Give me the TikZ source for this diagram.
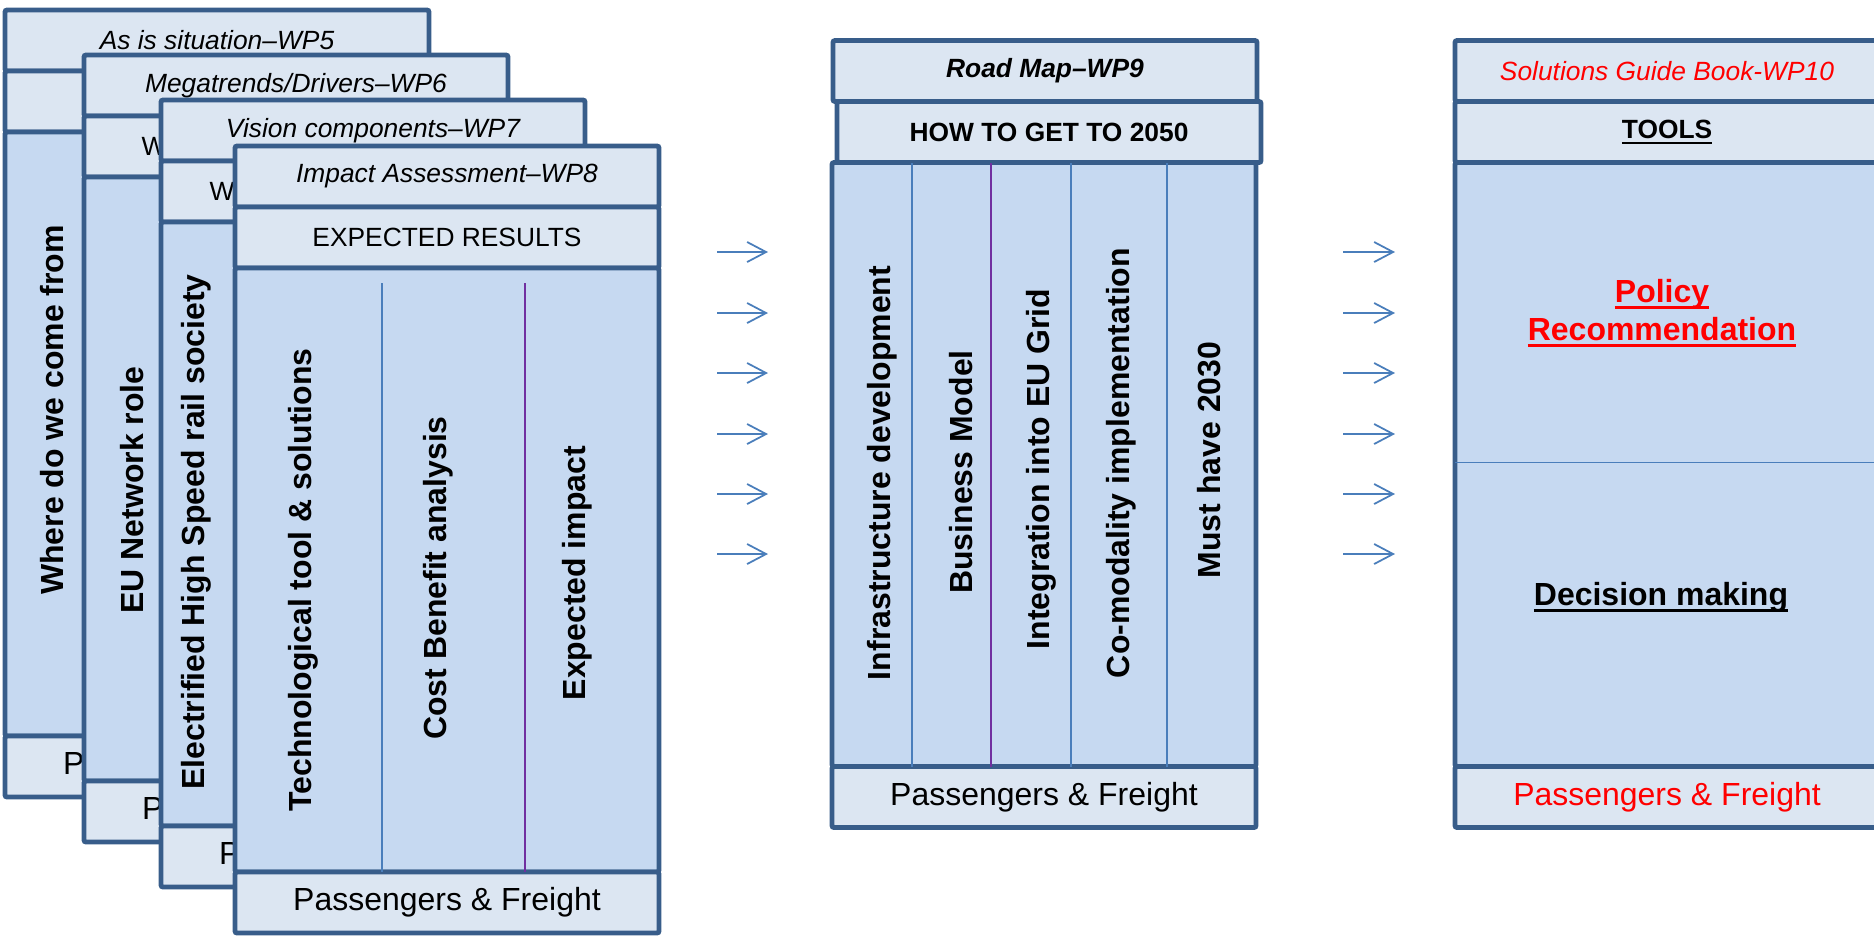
\documentclass[tikz,border=0pt]{standalone}
\usepackage{fontspec}
\setmainfont{Liberation Sans}
\usepackage{xcolor}
\usetikzlibrary{arrows.meta, positioning, calc}

\definecolor{cardline}{RGB}{56,93,138}
\definecolor{rowfill}{RGB}{220,230,242}
\definecolor{bodyfill}{RGB}{198,217,241}
\definecolor{divblue}{RGB}{74,126,187}
\definecolor{divpurple}{RGB}{112,48,160}
\definecolor{wpred}{RGB}{255,0,0}

\newcommand{\undertext}[1]{\setbox0\hbox{#1}\rlap{\rule[-0.2em]{\wd0}{0.08em}}\box0}

\tikzset{
    rowbox/.style={rectangle, rounded corners=0.6pt, minimum width=4.24cm, minimum height=0.61cm,
        inner sep=0pt, outer sep=0pt, draw=cardline, line width=1.4pt, fill=rowfill,
        text centered, font=\fontsize{7.5}{9}\selectfont},
    titlebox/.style={rowbox, font=\fontsize{7.5}{9}\selectfont\itshape},
    footbox/.style={rowbox, font=\fontsize{9.1}{11}\selectfont},
    bodybox/.style={rowbox, minimum height=6.04cm, fill=bodyfill},
    coltext/.style={rotate=90, inner sep=0pt, font=\fontsize{9.1}{11}\selectfont\bfseries},
    bigtext/.style={inner sep=0pt, align=center, font=\fontsize{9.1}{10.8}\selectfont\bfseries},
    hidetext/.style={anchor=west, inner sep=0pt, font=\fontsize{7.5}{9}\selectfont},
    divline/.style={draw=divblue, line width=0.45pt},
    flowarrow/.style={-{Straight Barb[length=1.9mm, width=2mm]}, draw=divblue, line width=0.5pt},
}

\begin{document}
\begin{tikzpicture}[x=1cm, y=1cm]
    \useasboundingbox (0,0) rectangle (18.74,-9.37);

    % stacked work package cards, back to front
    \node[titlebox] (c1t) at (2.17,-0.405) {As is situation–WP5};
    \node[rowbox, below=0pt of c1t] (c1h) {};
    \node[bodybox, below=0pt of c1h] (c1b) {};
    \node[footbox, below=0pt of c1b] (c1p) {Passengers \& Freight};
    \node[coltext] (c1x) at (0.52,-4.10) {Where do we come from};

    \node[titlebox] (c2t) at (2.96,-0.855) {Megatrends/Drivers–WP6};
    \node[rowbox, below=0pt of c2t] (c2h) {};
    \node[hidetext] (c2w) at ($(c2h.west)+(0.57,0)$) {W};
    \node[bodybox, below=0pt of c2h] (c2b) {};
    \node[footbox, below=0pt of c2b] (c2p) {Passengers \& Freight};
    \node[coltext] (c2x) at (1.32,-4.90) {EU Network role};

    \node[titlebox] (c3t) at (3.73,-1.305) {Vision components–WP7};
    \node[rowbox, below=0pt of c3t] (c3h) {};
    \node[hidetext] (c3w) at ($(c3h.west)+(0.48,0)$) {W};
    \node[bodybox, below=0pt of c3h] (c3b) {};
    \node[footbox, below=0pt of c3b] (c3p) {Passengers \& Freight};
    \node[coltext] (c3x) at (1.96,-5.32) {Electrified High Speed rail society};

    \node[titlebox] (c4t) at (4.47,-1.765) {Impact Assessment–WP8};
    \node[rowbox, below=0pt of c4t] (c4h) {EXPECTED RESULTS};
    \node[bodybox, below=0pt of c4h] (c4b) {};
    \node[footbox, below=0pt of c4b] (c4p) {Passengers \& Freight};
    \draw[divline] ($(c4b.south west)+(1.47,0)$) -- ++(0,5.89);
    \draw[divline, draw=divpurple] ($(c4b.south west)+(2.90,0)$) -- ++(0,5.89);
    \node[coltext] (c4x1) at (3.03,-5.80) {Technological tool \& solutions};
    \node[coltext] (c4x2) at (4.38,-5.78) {Cost Benefit analysis};
    \node[coltext] (c4x3) at (5.77,-5.73) {Expected impact};

    % road map
    \node[titlebox, font=\fontsize{7.5}{9}\selectfont\bfseries\itshape] (rmt) at (10.45,-0.71) {Road Map–WP9};
    \node[rowbox, below=0pt of rmt, xshift=0.04cm, font=\fontsize{7.5}{9}\selectfont\bfseries] (rmh) {HOW TO GET TO 2050};
    \node[bodybox, below=0pt of rmh, xshift=-0.05cm] (rmb) {};
    \node[footbox, below=0pt of rmb] (rmp) {Passengers \& Freight};
    \foreach \dx in {0.80,2.39,3.35}
        \draw[divline] ($(rmb.south west)+(\dx,0)$) -- ++(0,6.04);
    \draw[divline, draw=divpurple] ($(rmb.south west)+(1.59,0)$) -- ++(0,6.04);
    \node[coltext] (rmx1) at (8.82,-4.73) {Infrastructure development};
    \node[coltext] (rmx2) at (9.61,-4.72) {Business Model};
    \node[coltext] (rmx3) at (10.41,-4.69) {Integration into EU Grid};
    \node[coltext] (rmx4) at (11.21,-4.63) {Co-modality implementation};
    \node[coltext] (rmx5) at (12.09,-4.60) {Must have 2030};

    % solutions guide book
    \node[titlebox, text=wpred] (sgt) at (16.67,-0.71) {Solutions Guide Book-WP10};
    \node[rowbox, below=0pt of sgt, font=\fontsize{7.5}{9}\selectfont\bfseries] (sgh) {\undertext{TOOLS}};
    \node[bodybox, below=0pt of sgh] (sgb) {};
    \node[footbox, below=0pt of sgb, text=wpred] (sgp) {Passengers \& Freight};
    \draw[divline] ($(sgb.north west)+(0,-3.00)$) -- ++(4.24,0);
    \node[bigtext, text=wpred] (sgx1) at (16.62,-3.13) {\undertext{Policy}\\\undertext{Recommendation}};
    \node[bigtext] (sgx2) at (16.61,-5.97) {\undertext{Decision making}};

    % flow arrows
    \foreach \i/\y in {1/2.52,2/3.13,3/3.73,4/4.34,5/4.94,6/5.54} {
        \coordinate (la\i) at (7.17,-\y);
        \coordinate (lb\i) at (7.68,-\y);
        \coordinate (ra\i) at (13.43,-\y);
        \coordinate (rb\i) at (13.95,-\y);
        \draw[flowarrow] (la\i) -- (lb\i);
        \draw[flowarrow] (ra\i) -- (rb\i);
    }
\end{tikzpicture}
\end{document}
